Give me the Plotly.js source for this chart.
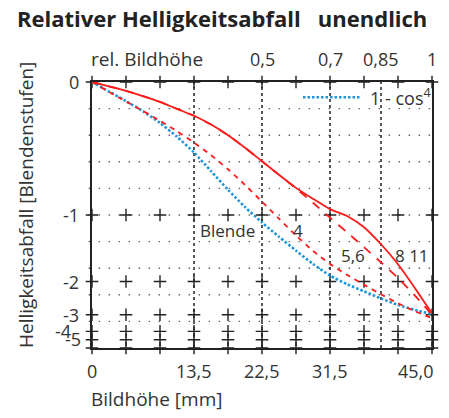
<!DOCTYPE html>
<html><head><meta charset="utf-8">
<script src="https://cdn.plot.ly/plotly-3.0.1.min.js"></script>
<style>html,body{margin:0;padding:0;background:#fff}#chart{width:449px;height:418px}</style>
</head><body><div id="chart"></div>
<script>
// Bildhöhe [mm]
const bildhoehe = [0, 2.25, 4.5, 6.75, 9, 11.25, 13.5, 15.75, 18, 20.25, 22.5, 24.75, 27, 29.25, 31.5, 33.75, 36, 38.25, 40.5, 42.75, 45];
// relative illumination (axis is linear in illumination, labelled in stops)
const cos4 = [1.0, 0.964, 0.928, 0.89, 0.846, 0.794, 0.735, 0.665, 0.595, 0.53, 0.472, 0.418, 0.366, 0.316, 0.272, 0.24, 0.213, 0.186, 0.162, 0.143, 0.127];
const blende4 = [1.0, 0.963, 0.927, 0.891, 0.854, 0.815, 0.772, 0.725, 0.672, 0.613, 0.55, 0.486, 0.423, 0.365, 0.316, 0.275, 0.238, 0.202, 0.168, 0.138, 0.112];
const blende56 = [1.0, 0.984, 0.967, 0.947, 0.925, 0.899, 0.873, 0.84, 0.8, 0.753, 0.702, 0.651, 0.6, 0.546, 0.49, 0.435, 0.379, 0.322, 0.263, 0.197, 0.125];
const blende8_11 = [1.0, 0.984, 0.967, 0.947, 0.925, 0.899, 0.873, 0.84, 0.8, 0.753, 0.702, 0.651, 0.602, 0.561, 0.522, 0.496, 0.454, 0.39, 0.315, 0.225, 0.13];

const xTickVals = [0, 4.5, 9, 13.5, 18, 22.5, 27, 31.5, 36, 40.5, 45];
const yTickVals = [1, 0.5, 0.25, 0.125, 0.0625, 0.03125, 0];
const yLabelVals = [1, 0.5, 0.25, 0.125, 0.0625, 0.03125];
const yLabelText = ['0', '-1', '-2', '-3', '-4', '-5'];
const xLabelVals = [0, 13.5, 22.5, 31.5, 45];
const xLabelText = ['0', '13,5', '22,5', '31,5', '45,0'];
const relVals = [22.5, 31.5, 38.25, 45];
const relText = ['0,5', '0,7', '0,85', '1'];
const vLines = [13.5, 22.5, 31.5, 38.25];
const gridY = [0.1, 0.2, 0.3, 0.4, 0.5, 0.6, 0.7, 0.8, 0.9];

const FONT = '"Open Sans", "Noto Sans", sans-serif';
const TXT = '#333';
const RED = '#ff1a1a';
const BLUE = '#1e96d8';

const cx = [], cy = [];
xTickVals.forEach(x => yTickVals.forEach(y => { cx.push(x); cy.push(y); }));

const SPL = {shape: 'spline', smoothing: 0.6};
const traces = [
  {x: cx, y: cy, mode: 'markers', type: 'scatter', hoverinfo: 'skip', showlegend: false, cliponaxis: false,
   marker: {symbol: 'cross-thin', size: 9, color: '#222', line: {color: '#222', width: 1.4}}},
  {x: bildhoehe, y: cos4, mode: 'lines', type: 'scatter', name: '1 - cos<sup>4</sup>', showlegend: false,
   line: Object.assign({color: BLUE, width: 2.6, dash: '2.5px,2px'}, SPL)},
  {x: bildhoehe, y: blende4, mode: 'lines', type: 'scatter', name: 'Blende 4', showlegend: false,
   line: Object.assign({color: RED, width: 1.8, dash: '5px,5px'}, SPL)},
  {x: bildhoehe, y: blende56, mode: 'lines', type: 'scatter', name: 'Blende 5,6', showlegend: false,
   line: Object.assign({color: RED, width: 1.8, dash: '9px,8px'}, SPL)},
  {x: bildhoehe, y: blende8_11, mode: 'lines', type: 'scatter', name: 'Blende 8 / 11', showlegend: false,
   line: Object.assign({color: RED, width: 1.8}, SPL)}
];

const shapes = [];
vLines.forEach(v => shapes.push({type: 'line', xref: 'x', yref: 'y', x0: v, x1: v, y0: 0, y1: 1, layer: 'below',
  line: {color: '#111', width: 1.4, dash: '3px,3px'}}));
gridY.forEach(g => shapes.push({type: 'line', xref: 'paper', yref: 'y', x0: -0.01, x1: 1.01, y0: g, y1: g, layer: 'below',
  line: {color: '#666', width: 1.4, dash: '1.5px,8.5px'}}));
// legend sample line for the 1 - cos^4 series
shapes.push({type: 'line', xref: 'paper', yref: 'paper', x0: (303 - 92) / 340, x1: (360 - 92) / 340,
  y0: (347.7 - 97) / 266, y1: (347.7 - 97) / 266, line: {color: BLUE, width: 2.6, dash: '2.5px,2px'}});

const ann = [];
yLabelVals.forEach((v, i) => ann.push({xref: 'x', yref: 'y', x: 0, y: v, text: yLabelText[i], showarrow: false,
  xanchor: 'right', yanchor: 'middle', xshift: (yLabelText[i] === '-4' ? -19 : (yLabelText[i] === '-5' ? -9 : -11)),
  yshift: (yLabelText[i] === '-5' ? 1 : 0), font: {family: FONT, size: 18, color: TXT}}));
xLabelVals.forEach((v, i) => ann.push({xref: 'x', yref: 'paper', x: v, y: 0, text: xLabelText[i], showarrow: false,
  xanchor: 'center', yanchor: 'middle', yshift: -23, xshift: (i === xLabelVals.length - 1 ? -16 : 0),
  font: {family: FONT, size: 18, color: TXT}}));
relVals.forEach((v, i) => ann.push({xref: 'x', yref: 'paper', x: v, y: 1, text: relText[i], showarrow: false,
  xanchor: 'center', yanchor: 'middle', yshift: 23, font: {family: FONT, size: 18, color: TXT}}));
ann.push({xref: 'x', yref: 'paper', x: 0, y: 1, text: 'rel. Bildhöhe', showarrow: false, xanchor: 'left', yanchor: 'middle',
  xshift: -3, yshift: 23, font: {family: FONT, size: 19, color: TXT}});
ann.push({xref: 'x', yref: 'paper', x: 0, y: 0, text: 'Bildhöhe [mm]', showarrow: false, xanchor: 'left', yanchor: 'middle',
  xshift: -3, yshift: -51, font: {family: FONT, size: 19, color: TXT}});
ann.push({xref: 'paper', yref: 'paper', x: 0, y: 0.5, text: 'Helligkeitsabfall [Blendenstufen]', showarrow: false,
  textangle: -90, xanchor: 'center', yanchor: 'middle', xshift: -66, yshift: 10, font: {family: FONT, size: 19, color: TXT}});
ann.push({xref: 'paper', yref: 'paper', x: (368 - 92) / 340, y: (347.7 - 97) / 266, text: '1 - cos<sup>4</sup>', showarrow: false,
  xanchor: 'left', yanchor: 'middle', font: {family: FONT, size: 18, color: TXT}});
ann.push({xref: 'x', yref: 'y', x: 21.9, y: 0.4435, text: 'Blende', showarrow: false, xanchor: 'right', yanchor: 'middle',
  font: {family: FONT, size: 17, color: TXT}});
ann.push({xref: 'x', yref: 'y', x: 27.3, y: 0.4435, text: '4', showarrow: false, xanchor: 'center', yanchor: 'middle',
  font: {family: FONT, size: 17, color: TXT}});
ann.push({xref: 'x', yref: 'y', x: 34.55, y: 0.349, text: '5,6', showarrow: false, xanchor: 'center', yanchor: 'middle',
  font: {family: FONT, size: 17, color: TXT}});
ann.push({xref: 'x', yref: 'y', x: 42.35, y: 0.349, text: '8 11', showarrow: false, xanchor: 'center', yanchor: 'middle',
  font: {family: FONT, size: 17, color: TXT}});

const layout = {
  width: 449, height: 418,
  margin: {l: 92, r: 17, t: 82, b: 70},
  paper_bgcolor: '#fff', plot_bgcolor: '#fff',
  font: {family: FONT, color: TXT, size: 16},
  title: {text: '<b>Relativer Helligkeitsabfall\u00a0\u00a0\u00a0unendlich</b>', x: 17 / 449, xanchor: 'left',
    y: 1 - 19 / 418, yanchor: 'middle', yref: 'container', font: {family: FONT, size: 22, color: '#222'}},
  xaxis: {range: [0, 45], showgrid: false, zeroline: false, showticklabels: false, ticks: '',
    showline: true, mirror: true, linecolor: '#222', linewidth: 2, fixedrange: true},
  yaxis: {range: [0, 1], showgrid: false, zeroline: false, showticklabels: false, ticks: '',
    showline: true, mirror: true, linecolor: '#222', linewidth: 2, fixedrange: true},
  showlegend: false,
  shapes: shapes,
  annotations: ann
};

Plotly.newPlot('chart', traces, layout, {displayModeBar: false, staticPlot: true});
</script></body></html>
